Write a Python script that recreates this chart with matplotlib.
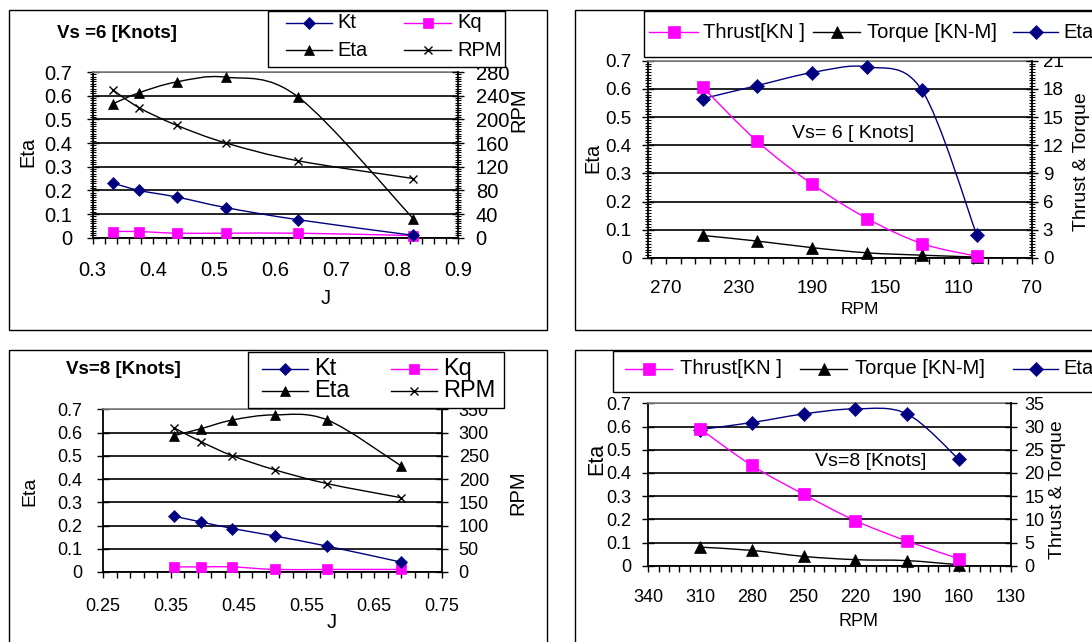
import numpy as np
import matplotlib
matplotlib.use('Agg')
import matplotlib.pyplot as plt
from matplotlib.path import Path
from matplotlib.patches import PathPatch, Rectangle
from matplotlib.lines import Line2D
from matplotlib.ticker import FixedLocator
from matplotlib.transforms import Affine2D

plt.rcParams['font.family'] = ['Liberation Sans', 'DejaVu Sans']

# ---------------- data ----------------
# Vs = 6 knots
J6 = [0.333, 0.376, 0.438, 0.519, 0.637, 0.826]
Kt6 = [0.231, 0.200, 0.172, 0.127, 0.076, 0.010]
Kq6 = [0.026, 0.026, 0.019, 0.019, 0.019, 0.009]
Eta6 = [0.565, 0.612, 0.658, 0.678, 0.595, 0.081]
RPM6 = [250, 220, 190, 160, 130, 100]
Thrust6 = [18.2, 12.4, 7.85, 4.2, 1.53, 0.18]
Torque6 = [2.4, 1.8, 1.1, 0.55, 0.3, 0.1]

# Vs = 8 knots
J8 = [0.355, 0.395, 0.441, 0.503, 0.581, 0.689]
Kt8 = [0.240, 0.215, 0.187, 0.155, 0.111, 0.043]
Kq8 = [0.022, 0.022, 0.022, 0.011, 0.011, 0.011]
Eta8 = [0.587, 0.617, 0.654, 0.676, 0.654, 0.458]
RPM8 = [310, 280, 250, 220, 190, 160]
Thrust8 = [29.5, 21.6, 15.4, 9.7, 5.3, 1.5]
Torque8 = [4.0, 3.3, 2.0, 1.3, 1.1, 0.2]

# tick labels
eta_ticks = [0, 0.1, 0.2, 0.3, 0.4, 0.5, 0.6, 0.7]
eta_labels = ['0', '0.1', '0.2', '0.3', '0.4', '0.5', '0.6', '0.7']
j6_ticks = [0.3, 0.4, 0.5, 0.6, 0.7, 0.8, 0.9]
j6_labels = ['0.3', '0.4', '0.5', '0.6', '0.7', '0.8', '0.9']
j8_ticks = [0.25, 0.35, 0.45, 0.55, 0.65, 0.75]
j8_labels = ['0.25', '0.35', '0.45', '0.55', '0.65', '0.75']
rpm6_right = [0, 40, 80, 120, 160, 200, 240, 280]
rpm8_right = [0, 50, 100, 150, 200, 250, 300, 350]
rpm6_x = [270, 230, 190, 150, 110, 70]
rpm8_x = [340, 310, 280, 250, 220, 190, 160, 130]
tt6_right = [0, 3, 6, 9, 12, 15, 18, 21]
tt8_right = [0, 5, 10, 15, 20, 25, 30, 35]

NAVY = '#000080'
PINK = '#FF00FF'
BLACK = '#000000'

W, H = 1092, 642
fig = plt.figure(figsize=(W / 100, H / 100), dpi=100)
PX = Affine2D().scale(1 / W, -1 / H).translate(0, 1) + fig.transFigure


def axes_px(x0, y0, x1, y1):
    return fig.add_axes([x0 / W, 1 - y1 / H, (x1 - x0) / W, (y1 - y0) / H])


def smooth_line(ax, x, y, color, lw=1.0, z=2):
    P = np.column_stack([x, y]).astype(float)
    n = len(P)
    verts = [P[0]]
    codes = [Path.MOVETO]
    for i in range(n - 1):
        p0 = P[i - 1] if i > 0 else P[i]
        p1, p2 = P[i], P[i + 1]
        p3 = P[i + 2] if i + 2 < n else P[i + 1]
        verts += [p1 + (p2 - p0) / 6.0, p2 - (p3 - p1) / 6.0, p2]
        codes += [Path.CURVE4] * 3
    ax.add_patch(PathPatch(Path(verts, codes), fill=False, edgecolor=color,
                           lw=lw, zorder=z))


def series(ax, x, y, color, marker, ms, z=3):
    smooth_line(ax, x, y, color, z=z)
    kw = dict(mew=1.0) if marker == 'x' else dict(mew=0.5)
    ax.plot(x, y, ls='none', marker=marker, ms=ms, color=color, mfc=color,
            mec=color, zorder=z + 0.1, clip_on=False, **kw)


def setup(ax, ax2, xlim, xticks, xlabels, xminor, yminor, y2ticks, y2minor,
          fs, xpad, ypad, y2pad):
    ax.set_xlim(*xlim)
    ax.set_ylim(0, 0.7)
    ax.xaxis.set_major_locator(FixedLocator(xticks))
    ax.set_xticklabels(xlabels)
    ax.xaxis.set_minor_locator(FixedLocator(xminor))
    ax.yaxis.set_major_locator(FixedLocator(eta_ticks))
    ax.set_yticklabels(eta_labels)
    if yminor is not None:
        ax.yaxis.set_minor_locator(FixedLocator(yminor))
    ax.grid(axis='y', which='major', color='black', lw=1.2, zorder=0.5)
    ax.tick_params(axis='x', which='both', direction='out', length=4.5,
                   width=1.0, labelsize=fs, pad=xpad)
    ax.tick_params(axis='y', which='major', direction='inout', length=8,
                   width=1.0, labelsize=fs, pad=ypad)
    ax.tick_params(axis='y', which='minor', direction='inout', length=5,
                   width=0.8)
    for s in ['left', 'bottom']:
        ax.spines[s].set_linewidth(1.3)
    ax.spines['top'].set_color('#808080')
    ax.spines['top'].set_linewidth(1.2)
    ax.spines['right'].set_visible(False)
    ax2.set_ylim(y2ticks[0], y2ticks[-1])
    ax2.yaxis.set_major_locator(FixedLocator(y2ticks))
    ax2.set_yticklabels([str(v) for v in y2ticks])
    if y2minor is not None:
        ax2.yaxis.set_minor_locator(FixedLocator(y2minor))
    ax2.tick_params(axis='y', which='major', direction='inout', length=8,
                    width=1.0, labelsize=fs, pad=y2pad)
    ax2.tick_params(axis='y', which='minor', direction='inout', length=5,
                    width=0.8)
    for s in ['left', 'bottom', 'top']:
        ax2.spines[s].set_visible(False)
    ax2.spines['right'].set_linewidth(1.3)


def labels(ax, ax2, ylab, ypos, xlab, xpos, y2lab, y2pos, fy, fx, fy2):
    ax.set_ylabel(ylab, fontsize=fy, va='center', ha='center')
    ax.yaxis.set_label_coords(*ypos, transform=PX)
    ax.set_xlabel(xlab, fontsize=fx, va='center', ha='center')
    ax.xaxis.set_label_coords(*xpos, transform=PX)
    ax2.set_ylabel(y2lab, fontsize=fy2, va='center', ha='center', rotation=90)
    ax2.yaxis.set_label_coords(*y2pos, transform=PX)


def frame(x0, y0, x1, y1):
    fig.add_artist(Rectangle((x0, y0), x1 - x0, y1 - y0, transform=PX,
                             fill=False, edgecolor='black', lw=1.0, zorder=4))


def legend_box(x0, y0, x1, y1):
    fig.add_artist(Rectangle((x0, y0), x1 - x0, y1 - y0, transform=PX,
                             facecolor='white', edgecolor='black', lw=1.0,
                             zorder=5))


def legend_entry(x0, x1, y, color, marker, ms, text, tx, fs):
    fig.add_artist(Line2D([x0, x1], [y, y], color=color, lw=1.0,
                          transform=PX, zorder=6))
    kw = dict(mew=1.0) if marker == 'x' else dict(mew=0.5)
    fig.add_artist(Line2D([(x0 + x1) / 2], [y], ls='none', marker=marker,
                          ms=ms, color=color, mfc=color, mec=color,
                          transform=PX, zorder=6, **kw))
    fig.text(tx, y, text, transform=PX, fontsize=fs, va='center', ha='left',
             zorder=7)


# ---------------- panel 1: Vs = 6, vs J ----------------
frame(8.5, 10, 546.5, 330)
ax1 = axes_px(92.5, 72, 458.3, 237.7)
ax1b = ax1.twinx()
setup(ax1, ax1b, (0.3, 0.9), j6_ticks, j6_labels,
      np.round(np.arange(0.3, 0.901, 0.02), 3),
      np.round(np.arange(0, 0.701, 0.01), 3),
      rpm6_right, np.arange(0, 281, 4), fs=14.5, xpad=12, ypad=10.5,
      y2pad=8.5)
series(ax1, J6, Kq6, PINK, 's', 7.5)
series(ax1, J6, Kt6, NAVY, 'D', 6.5)
series(ax1, J6, Eta6, BLACK, '^', 7.5)
series(ax1b, J6, RPM6, BLACK, 'x', 6)
labels(ax1, ax1b, 'Eta', (28, 152), 'J', (326, 298), 'RPM', (519, 110),
       14.5, 14.5, 14.5)
fig.text(57, 33, 'Vs =6 [Knots]', transform=PX, fontsize=13.5,
         fontweight='bold', va='center', ha='left')
legend_box(268, 11, 505, 67)
legend_entry(285.5, 332, 23, NAVY, 'D', 6.5, 'Kt', 337, 14.5)
legend_entry(404, 451, 23, PINK, 's', 7.5, 'Kq', 457, 14.5)
legend_entry(285.5, 332, 50, BLACK, '^', 7.5, 'Eta', 337, 14.5)
legend_entry(404, 451, 50, BLACK, 'x', 6, 'RPM', 457, 14.5)

# ---------------- panel 2: Vs = 6, vs RPM ----------------
frame(575, 10, 1100, 330)
ax2 = axes_px(647.7, 60.7, 1031.7, 258)
ax2b = ax2.twinx()
setup(ax2, ax2b, (280, 70), rpm6_x, [str(v) for v in rpm6_x],
      np.arange(70, 281, 8),
      np.round(np.arange(0, 0.701, 0.01), 3),
      tt6_right, np.round(np.arange(0, 21.01, 0.3), 2),
      fs=13.5, xpad=11, ypad=7.5, y2pad=4)
series(ax2, RPM6, Eta6, NAVY, 'D', 7.5)
series(ax2b, RPM6, Torque6, BLACK, '^', 8)
series(ax2b, RPM6, Thrust6, PINK, 's', 8.5)
labels(ax2, ax2b, 'Eta', (593, 158), 'RPM', (860, 310), 'Thrust & Torque',
       (1081, 162), 14.5, 12.5, 14)
fig.text(792, 133, 'Vs= 6 [ Knots]', transform=PX, fontsize=14,
         va='center', ha='left')
legend_box(644, 11, 1100, 57)
legend_entry(649, 698, 32, PINK, 's', 8.5, 'Thrust[KN ]', 703, 14.5)
legend_entry(813, 860, 32, BLACK, '^', 8, 'Torque [KN-M]', 867, 14.5)
legend_entry(1013, 1058, 32, NAVY, 'D', 7.5, 'Eta', 1063, 14.5)

# ---------------- panel 3: Vs = 8, vs J ----------------
frame(8.5, 350, 546.5, 650)
ax3 = axes_px(103, 409.3, 442, 572)
ax3b = ax3.twinx()
setup(ax3, ax3b, (0.25, 0.75), j8_ticks, j8_labels,
      np.round(np.arange(0.25, 0.751, 0.02), 3), None,
      rpm8_right, None, fs=13, xpad=14, ypad=11, y2pad=8)
series(ax3, J8, Kq8, PINK, 's', 7.5)
series(ax3, J8, Kt8, NAVY, 'D', 6.5)
series(ax3, J8, Eta8, BLACK, '^', 7.5)
series(ax3b, J8, RPM8, BLACK, 'x', 6)
labels(ax3, ax3b, 'Eta', (30, 491), 'J', (332, 623), 'RPM', (518, 493),
       14, 14.5, 14.5)
fig.text(66, 369, 'Vs=8 [Knots]', transform=PX, fontsize=13.5,
         fontweight='bold', va='center', ha='left')
legend_box(248, 352, 504, 408)
legend_entry(262, 308, 369, NAVY, 'D', 6.5, 'Kt', 314, 17)
legend_entry(391, 437, 369, PINK, 's', 7.5, 'Kq', 443, 17)
legend_entry(262, 308, 391, BLACK, '^', 7.5, 'Eta', 314, 17)
legend_entry(391, 437, 391, BLACK, 'x', 6, 'RPM', 443, 17)

# ---------------- panel 4: Vs = 8, vs RPM ----------------
frame(575, 350, 1100, 650)
ax4 = axes_px(648.3, 403.3, 1010.7, 565.7)
ax4b = ax4.twinx()
setup(ax4, ax4b, (340, 130), rpm8_x, [str(v) for v in rpm8_x],
      np.arange(130, 341, 6), None,
      tt8_right, None, fs=13, xpad=12.5, ypad=8.5, y2pad=6)
series(ax4, RPM8, Eta8, NAVY, 'D', 7.5)
series(ax4b, RPM8, Torque8, BLACK, '^', 8)
series(ax4b, RPM8, Thrust8, PINK, 's', 8.5)
labels(ax4, ax4b, 'Eta', (597, 459), 'RPM', (858, 622), 'Thrust & Torque',
       (1058, 490), 15.5, 13, 14)
fig.text(815, 461, 'Vs=8 [Knots]', transform=PX, fontsize=14,
         va='center', ha='left')
legend_box(613, 351, 1100, 392)
legend_entry(625, 672, 369, PINK, 's', 8.5, 'Thrust[KN ]', 680, 14.5)
legend_entry(800, 847, 369, BLACK, '^', 8, 'Torque [KN-M]', 855, 14.5)
legend_entry(1013, 1058, 369, NAVY, 'D', 7.5, 'Eta', 1063, 14.5)

fig.savefig('out.png', dpi=100)
